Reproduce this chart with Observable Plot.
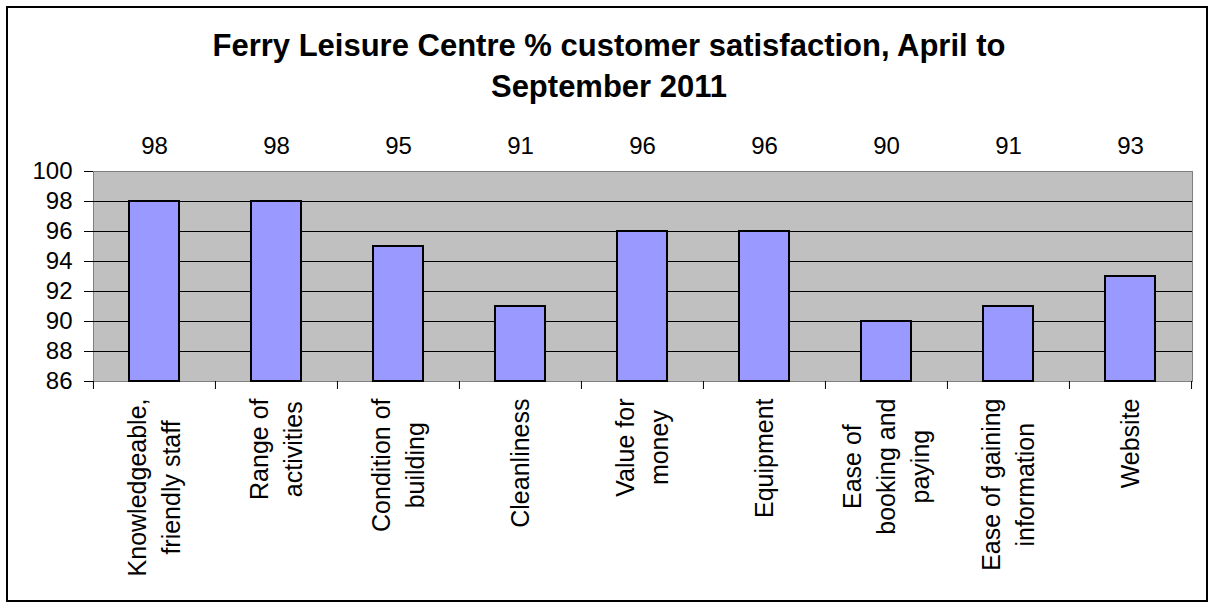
<!DOCTYPE html>
<html><head><meta charset="utf-8">
<script src="https://cdn.jsdelivr.net/npm/d3@7"></script>
<script src="https://cdn.jsdelivr.net/npm/@observablehq/plot@0.6"></script>
<style>
body{margin:0;background:#fff;font-family:"Liberation Sans",Arial,sans-serif;}
#wrap{position:relative;width:1210px;height:604px;overflow:hidden;background:#fff;}
#border{position:absolute;left:6px;top:6px;width:1198px;height:592px;border:2px solid #000;pointer-events:none;}
#title{height:120px;box-sizing:border-box;padding-top:25px;padding-left:8px;text-align:center;font-weight:bold;font-size:31px;line-height:41px;color:#000;}
#chart svg{display:block;}
</style></head><body>
<div id="wrap"><div id="title"></div><div id="chart"></div><div id="border"></div></div>
<script>
const titleLines = ["Ferry Leisure Centre % customer satisfaction, April to", "September 2011"];
const categories = ["Knowledgeable, friendly staff","Range of activities","Condition of building","Cleanliness","Value for money","Equipment","Ease of booking and paying","Ease of gaining information","Website"];
const labelLines = ["Knowledgeable,\nfriendly staff","Range of\nactivities","Condition of\nbuilding","Cleanliness","Value for\nmoney","Equipment","Ease of\nbooking and\npaying","Ease of gaining\ninformation","Website"];
const values = [98,98,95,91,96,96,90,91,93];
const yTicks = [86,88,90,92,94,96,98,100];
const gridValues = [88,90,92,94,96,98];
const yBase = 86;

document.getElementById("title").innerHTML = titleLines.map(t => t.replace(/&/g,"&amp;")).join("<br>");

const data = categories.map((c,i) => ({category:c, label:labelLines[i], value:values[i]}));
const font = '"Liberation Sans", Arial, sans-serif';
const labelSize = 25;

// measure the longest line of each label so every line can be centred on it (Excel-style wrapping)
const ctx = document.createElement("canvas").getContext("2d");
ctx.font = `${labelSize}px ${font}`;
const longest = s => Math.max(...s.split("\n").map(l => ctx.measureText(l).width));

const labelMarks = data.map(d => Plot.text([d], {
  x:"category", text:"label", frameAnchor:"bottom", rotate:-90,
  textAnchor:"middle", lineAnchor:"middle", lineHeight:1.36,
  dy:17 + longest(d.label) / 2, dx:-2, fontSize:labelSize, fill:"#000"
}));

const plot = Plot.plot({
  width:1210, height:484,
  marginLeft:93, marginRight:18, marginTop:51, marginBottom:223,
  style:{fontFamily:font, fontSize:"24px", color:"#000", background:"transparent", overflow:"visible"},
  x:{domain:categories, paddingInner:0.59, paddingOuter:0.295, axis:null},
  y:{domain:[86,100], axis:null},
  marks:[
    Plot.frame({fill:"#C0C0C0", stroke:"#808080", strokeWidth:1}),
    Plot.ruleY(gridValues, {stroke:"#000", strokeWidth:1}),
    Plot.barY(data, {x:"category", y1:yBase, y2:"value", fill:"#9999FF", stroke:"#000", strokeWidth:2}),
    Plot.axisY({ticks:yTicks, tickSize:9, tickPadding:12, fontSize:24, stroke:"#000", color:"#000", label:null}),
    Plot.ruleX(data, {x:"category", y1:yBase, y2:yBase, insetBottom:-8, dx:-61.05, stroke:"#000"}),
    Plot.ruleX(data.slice(-1), {x:"category", y1:yBase, y2:yBase, insetBottom:-8, dx:61.05, stroke:"#000"}),
    Plot.text(data, {x:"category", text:d => String(d.value), frameAnchor:"top", lineAnchor:"middle", dy:-25, fontSize:24, fill:"#000"}),
    ...labelMarks
  ]
});
document.getElementById("chart").appendChild(plot);
</script>
</body></html>
